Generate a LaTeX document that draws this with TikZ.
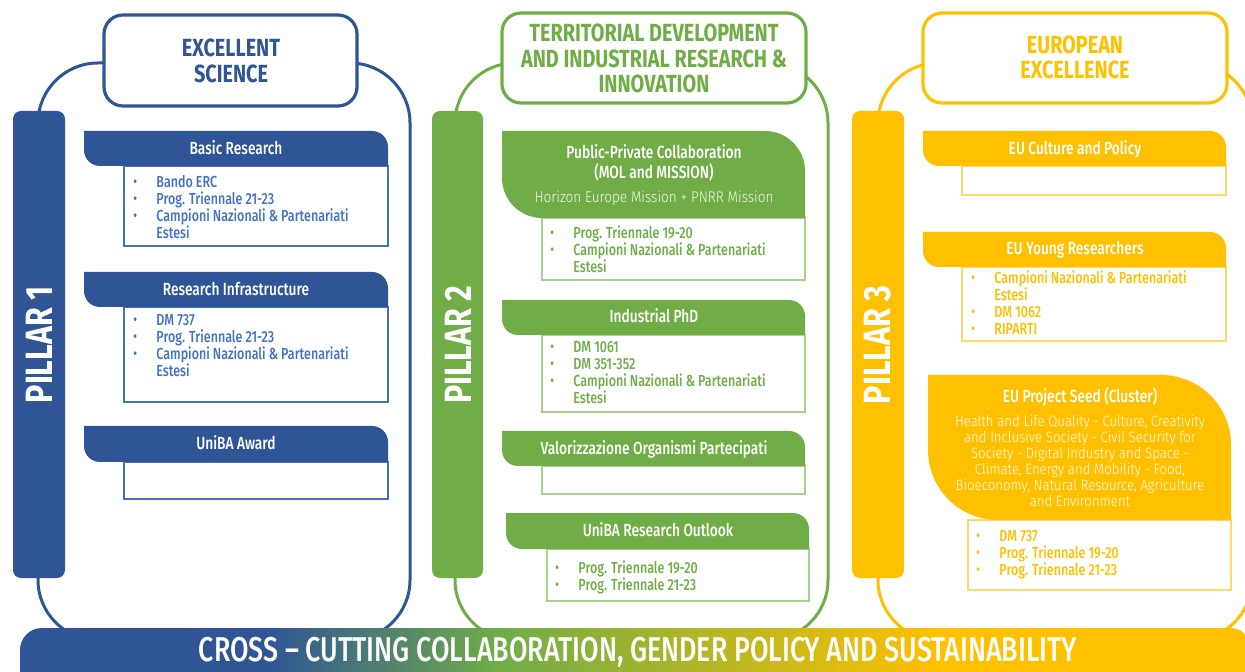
\documentclass[tikz,border=0pt]{standalone}
\usepackage{fontspec}
\setmainfont{Fira Sans}[FakeStretch=0.8]
\newfontfamily\lightfont{Fira Sans Light}[FakeStretch=0.88]
\newfontfamily\medfont{Fira Sans Medium}[FakeStretch=0.78,Ligatures=TeX]
\definecolor{pblue}{HTML}{2F5597}
\definecolor{lblue}{HTML}{4472C4}
\definecolor{pgreen}{HTML}{70AD47}
\definecolor{lgreen}{HTML}{A9D18E}
\definecolor{pyellow}{HTML}{FFC000}
\definecolor{lyellow}{HTML}{FFD966}
\pgfdeclarehorizontalshading{crossshade}{100bp}{color(0bp)=(pblue); color(35bp)=(pblue); color(44.5bp)=(pgreen); color(62.3bp)=(pyellow); color(100bp)=(pyellow)}
\newcommand\bul{\makebox[11.5pt][l]{\raisebox{0.4pt}{\scriptsize\textbullet}}}
\newcommand\cont{\hspace*{11.5pt}}
\newcommand\tabshape[6]{\fill[#6] (#1,#2) -- ({#3-#5},#2) arc[start angle=-90,end angle=0,radius=#5] -- (#3,#4) -- ({#1+#5},#4) arc[start angle=90,end angle=180,radius=#5] -- cycle;}
\begin{document}
\begin{tikzpicture}[x=0.5pt,y=-0.5pt,
  outline/.style={line width=1.5pt,rounded corners=30pt},
  pillar/.style={rounded corners=4pt},
  head/.style={line width=1.6pt,fill=white,rounded corners=9.5pt},
  headtxt/.style={align=center,inner sep=0pt,font=\fontsize{12.4}{12.85}\selectfont\bfseries},
  pillartxt/.style={white,rotate=90,inner sep=0pt,font=\fontsize{19}{21}\selectfont\bfseries},
  tabtxt/.style={white,anchor=base,inner sep=0pt,font=\medfont\fontsize{8.8}{10}\selectfont},
  item/.style={anchor=north west,align=left,inner sep=0pt,font=\medfont\fontsize{8}{8.5}\selectfont,execute at begin node=\strut},
  content/.style={line width=0.7pt}]
\path[fill=white,use as bounding box] (0,0) rectangle (1245,672);
% outlines
\draw[pblue,outline] (38,63) rectangle (410,640);
\draw[pgreen,outline] (455,63) rectangle (828,640);
\draw[pyellow,outline] (878,63) rectangle (1252,640);
% cross-cutting bar
\shade[shading=crossshade,rounded corners=11pt] (20,628) rectangle (1252,700);
\node[white,inner sep=0pt,font=\medfont\fontsize{17.2}{18}\selectfont] (cross) at (638,652) {CROSS – CUTTING COLLABORATION, GENDER POLICY AND SUSTAINABILITY};
% pillars
\fill[pblue,pillar] (13,111) rectangle (65,578);
\fill[pgreen,pillar] (432,111) rectangle (483,578);
\fill[pyellow,pillar] (852,111) rectangle (904,578);
\node[pillartxt] (p1) at (39,345) {PILLAR 1};
\node[pillartxt] (p2) at (458,345) {PILLAR 2};
\node[pillartxt] (p3) at (878,345) {PILLAR 3};
% headers
\draw[pblue,head] (104,15) rectangle (357,106);
\draw[pgreen,head] (502,13) rectangle (806,103);
\draw[pyellow,head] (923,13) rectangle (1227,103);
\node[headtxt,pblue] (excsci) at (231,61) {EXCELLENT\\SCIENCE};
\node[headtxt,pgreen] (terdev) at (654,58.5) {TERRITORIAL DEVELOPMENT\\AND INDUSTRIAL RESEARCH \&\\INNOVATION};
\node[headtxt,pyellow] (euexc) at (1075,57.5) {EUROPEAN\\EXCELLENCE};
% pillar 1
\draw[lblue,content] (124,166) rectangle (388,246);
\draw[lblue,content] (124,307) rectangle (388,402);
\draw[lblue,content] (124,462) rectangle (388,499);
\tabshape{84}{131}{388}{166}{16}{pblue}
\tabshape{84}{272}{388}{307}{16}{pblue}
\tabshape{84}{426}{388}{462}{16}{pblue}
\node[tabtxt] (basic) at (236,155) {Basic Research};
\node[tabtxt] (infra) at (236,296) {Research Infrastructure};
\node[tabtxt] (award) at (236,450) {UniBA Award};
\node[item,lblue] (basicitems) at (133,175) {\bul Bando ERC\\\bul Prog. Triennale 21-23\\\bul Campioni Nazionali \& Partenariati\\\cont Estesi};
\node[item,lblue] (infraitems) at (133,314) {\bul DM 737\\\bul Prog. Triennale 21-23\\\bul Campioni Nazionali \& Partenariati\\\cont Estesi};
% pillar 2
\draw[lgreen,content] (542,218) rectangle (805,280);
\draw[lgreen,content] (542,335) rectangle (805,412);
\draw[lgreen,content] (542,466) rectangle (805,494);
\draw[lgreen,content] (547,549) rectangle (809,601);
\tabshape{502}{131}{805}{218}{40}{pgreen}
\tabshape{502}{300}{805}{335}{16}{pgreen}
\tabshape{502}{431}{805}{466}{16}{pgreen}
\tabshape{506}{513}{809}{549}{16}{pgreen}
\node[tabtxt] (pubpriv) at (654,159) {Public-Private Collaboration};
\node[tabtxt] (mol) at (654,179) {(MOL and MISSION)};
\node[tabtxt,white!92!pgreen,font=\lightfont\fontsize{7.7}{8}\selectfont] (horizon) at (654,203) {Horizon Europe Mission + PNRR Mission};
\node[tabtxt] (phd) at (654,323) {Industrial PhD};
\node[tabtxt] (valor) at (654,455) {Valorizzazione Organismi Partecipati};
\node[tabtxt] (outlook) at (658,537) {UniBA Research Outlook};
\node[item,pgreen] (ppitems) at (550,225) {\bul Prog. Triennale 19-20\\\bul Campioni Nazionali \& Partenariati\\\cont Estesi};
\node[item,pgreen] (phditems) at (550,341) {\bul DM 1061\\\bul DM 351-352\\\bul Campioni Nazionali \& Partenariati\\\cont Estesi};
\node[item,pgreen] (outitems) at (555,560) {\bul Prog. Triennale 19-20\\\bul Prog. Triennale 21-23};
% pillar 3
\draw[lyellow,content] (962,166) rectangle (1226,195);
\draw[lyellow,content] (962,267) rectangle (1226,341);
\draw[lyellow,content] (968,520) rectangle (1231,590);
\tabshape{923}{131}{1226}{166}{16}{pyellow}
\tabshape{923}{232}{1226}{267}{16}{pyellow}
\tabshape{928}{375}{1231}{520}{70}{pyellow}
\node[tabtxt] (culture) at (1075,155) {EU Culture and Policy};
\node[tabtxt] (young) at (1075,255) {EU Young Researchers};
\node[tabtxt] (seed) at (1080,403) {EU Project Seed (Cluster)};
\node[white!95!pyellow,anchor=north,align=center,inner sep=0pt,font=\lightfont\fontsize{7.5}{8}\selectfont,execute at begin node=\strut] (cluster) at (1080,414.5) {Health and Life Quality - Culture, Creativity\\and Inclusive Society - Civil Security for\\Society - Digital Industry and Space -\\Climate, Energy and Mobility - Food,\\Bioeconomy, Natural Resource, Agriculture\\and Environment};
\node[item,pyellow] (youngitems) at (971,270) {\bul Campioni Nazionali \& Partenariati\\\cont Estesi\\\bul DM 1062\\\bul RIPARTI};
\node[item,pyellow] (seeditems) at (976,530) {\bul DM 737\\\bul Prog. Triennale 19-20\\\bul Prog. Triennale 21-23};
\end{tikzpicture}
\end{document}
